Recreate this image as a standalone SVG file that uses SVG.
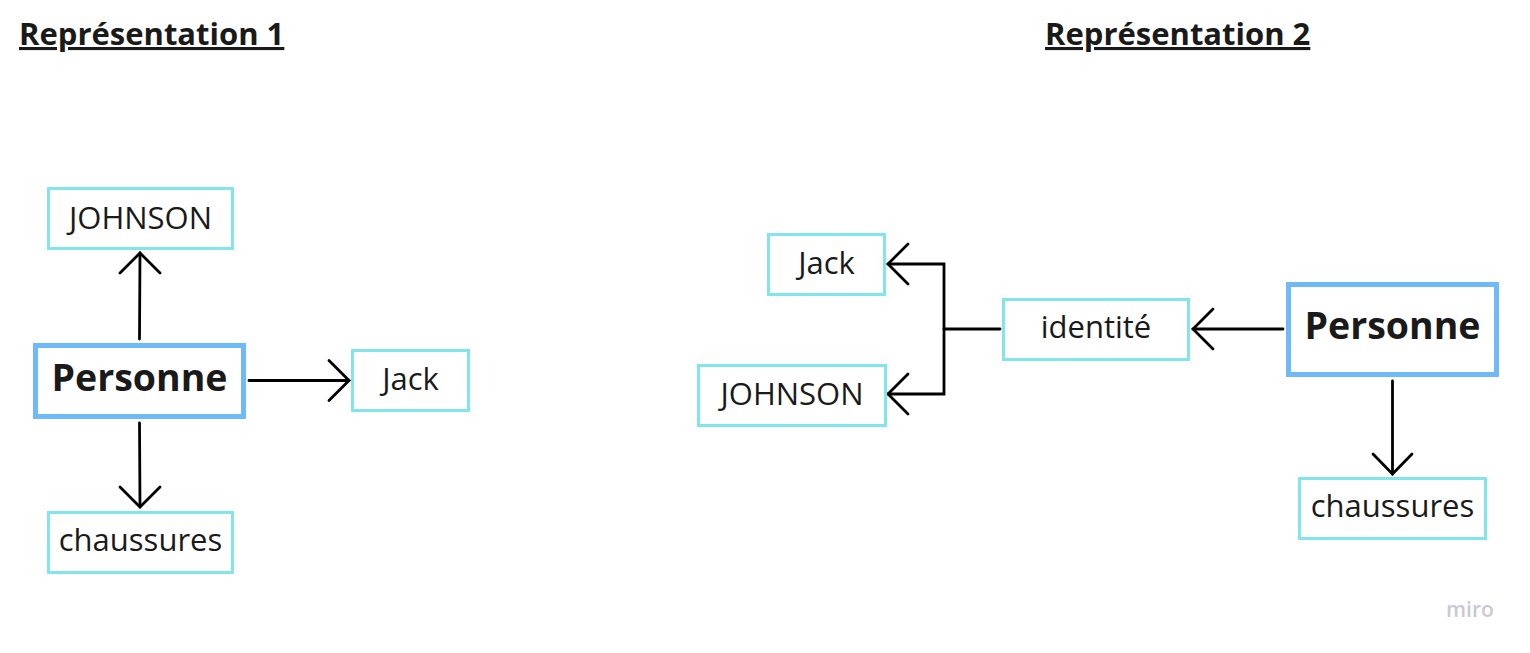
<svg xmlns="http://www.w3.org/2000/svg" width="1530" height="653" viewBox="0 0 1530 653">
<style>
  .bg { fill: #ffffff; }
  .box { fill: #ffffff; stroke: #82e5ec; stroke-width: 3; }
  .main { fill: #ffffff; stroke: #6fb9f6; stroke-width: 5; }
  .lbl { font-family: "Open Sans", "Noto Sans", sans-serif; font-size: 31px; fill: #1a1a1a; text-anchor: middle; }
  .bold { font-family: "Open Sans", "Noto Sans", sans-serif; font-size: 37.5px; font-weight: 700; fill: #1a1a1a; text-anchor: middle; }
  .title { font-family: "Open Sans", "Noto Sans", sans-serif; font-size: 31px; font-weight: 700; fill: #1a1a1a; text-decoration: underline; }
  .con { fill: none; stroke: #000000; stroke-width: 2.8; stroke-linecap: round; stroke-linejoin: miter; }
  .logo { font-family: "Open Sans", "Noto Sans", sans-serif; font-size: 21px; font-weight: 600; fill: #c9c9d6; }
</style>
<rect class="bg" x="0" y="0" width="1530" height="653"/>

<text class="title" x="19" y="45">Représentation 1</text>
<text class="title" x="1045" y="45">Représentation 2</text>

<g id="connectors">
  <!-- left -->
  <path class="con" d="M139.5 339 L140 253"/>
  <path class="con" d="M120 273 L140 253 L160 273"/>
  <path class="con" d="M249 380.5 L349 380.5"/>
  <path class="con" d="M329 360.5 L349 380.5 L329 400.5"/>
  <path class="con" d="M139.5 423 L140 507"/>
  <path class="con" d="M120 487 L140 507 L160 487"/>
  <!-- right -->
  <path class="con" d="M1283 329 L1193 329"/>
  <path class="con" d="M1213 309 L1193 329 L1213 349"/>
  <path class="con" d="M1000 329 L944 329"/>
  <path class="con" d="M888 264 L944 264 L944 394 L888 394"/>
  <path class="con" d="M908 244 L888 264 L908 284"/>
  <path class="con" d="M908 374 L888 394 L908 414"/>
  <path class="con" d="M1392.5 381 L1392.5 474"/>
  <path class="con" d="M1373 454 L1392.5 474 L1412 454"/>
</g>

<g id="n1-johnson">
  <rect class="box" x="48.5" y="188.5" width="184" height="60"/>
  <text class="lbl" x="140.5" y="228.5">JOHNSON</text>
</g>
<g id="n1-personne">
  <rect class="main" x="35.5" y="345.5" width="208" height="71"/>
  <text class="bold" x="139.5" y="391">Personne</text>
</g>
<g id="n1-jack">
  <rect class="box" x="352.5" y="350.5" width="116" height="60"/>
  <text class="lbl" x="410.5" y="390">Jack</text>
</g>
<g id="n1-chaussures">
  <rect class="box" x="48.5" y="512.5" width="184" height="60"/>
  <text class="lbl" x="140.5" y="550.5">chaussures</text>
</g>

<g id="n2-jack">
  <rect class="box" x="768.5" y="234.5" width="116" height="60"/>
  <text class="lbl" x="826.5" y="273.5">Jack</text>
</g>
<g id="n2-johnson">
  <rect class="box" x="698.5" y="365.5" width="187" height="60"/>
  <text class="lbl" x="792" y="405">JOHNSON</text>
</g>
<g id="n2-identite">
  <rect class="box" x="1003.5" y="299.5" width="185" height="60"/>
  <text class="lbl" x="1096" y="337.5">identité</text>
</g>
<g id="n2-personne">
  <rect class="main" x="1288.5" y="284.5" width="208" height="90"/>
  <text class="bold" x="1392.5" y="339">Personne</text>
</g>
<g id="n2-chaussures">
  <rect class="box" x="1299.5" y="478.5" width="186" height="60"/>
  <text class="lbl" x="1392.5" y="517">chaussures</text>
</g>

<text class="logo" x="1446" y="617">miro</text>
</svg>
